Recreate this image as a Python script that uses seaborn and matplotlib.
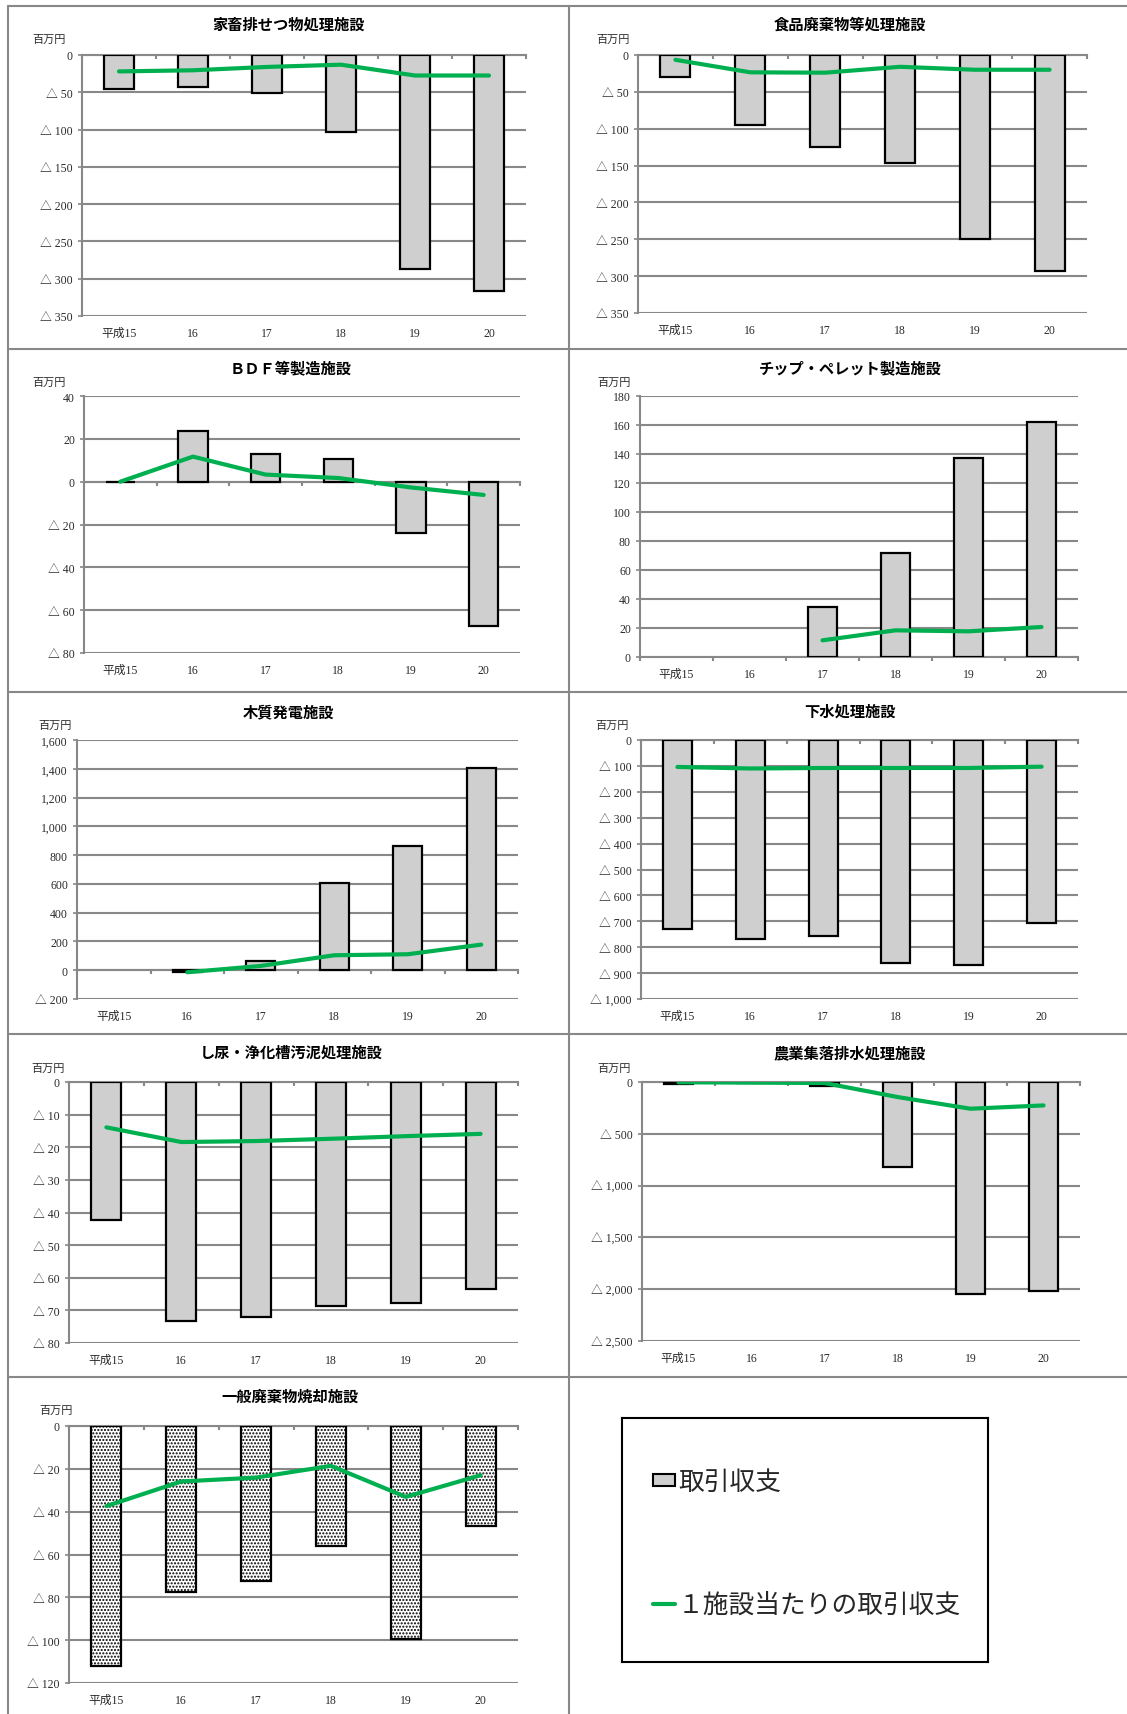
import numpy as np
import pandas as pd
import matplotlib
matplotlib.use("Agg")
import matplotlib.pyplot as plt
from matplotlib.ticker import MultipleLocator, FuncFormatter
from matplotlib.patches import Patch
from matplotlib.lines import Line2D
import seaborn as sns

nan = np.nan

# 年度 (category axis)
years = ["平成15", "16", "17", "18", "19", "20"]

# 施設区分ごとの取引収支と１施設当たりの取引収支 (百万円)
kachiku_total = [-45, -43, -51, -103, -287, -316]
kachiku_per = [-22, -20.5, -16, -13, -27.5, -27.5]

shokuhin_total = [-30, -95, -124.5, -146, -249, -293]
shokuhin_per = [-6.5, -23.5, -24, -16, -20, -20]

bdf_total = [-0.3, 23.6, 13, 10.6, -24.2, -67.4]
bdf_per = [0, 11.7, 3.3, 1.7, -2.7, -6.2]

chip_total = [nan, nan, 34.7, 72, 137.5, 161.8]
chip_per = [nan, nan, 11.5, 18.4, 17.7, 20.7]

mokushitsu_total = [nan, -12, 62, 603, 865, 1408]
mokushitsu_per = [nan, -14, 30, 104, 111, 178]

gesui_total = [-730, -768, -756, -860, -869, -705]
gesui_per = [-104, -110, -108, -108, -108, -103]

shinyo_total = [-42.2, -73.2, -72, -68.8, -67.7, -63.5]
shinyo_per = [-13.9, -18.4, -18.1, -17.4, -16.6, -15.9]

nogyo_total = [-20, -10, -42, -816, -2045, -2013]
nogyo_per = [-3, -6, -10, -145, -258, -226]

ippan_total = [-112, -77.6, -72.2, -56.2, -99.5, -46.7]
ippan_per = [-37.4, -25.9, -24.1, -18.6, -33.1, -23]

titles = ["家畜排せつ物処理施設", "食品廃棄物等処理施設", "ＢＤＦ等製造施設",
          "チップ・ペレット製造施設", "木質発電施設", "下水処理施設",
          "し尿・浄化槽汚泥処理施設", "農業集落排水処理施設", "一般廃棄物焼却施設"]

legend_labels = ["取引収支", "１施設当たりの取引収支"]
unit_label = "百万円"

W, H = 1127, 1715
GRID = "#888888"
BAR = "#cfcfcf"
GREEN = "#00B050"
TEXT = "#2a2a2a"

sns.set_theme(style="white")
plt.rcParams["font.family"] = ["Liberation Serif", "Noto Sans CJK JP"]
CJK = ["Noto Sans CJK JP"]

fig = plt.figure(figsize=(W / 100, H / 100), dpi=100)


def frac(l, r, t, b):
    return [l / W, 1 - b / H, (r - l) / W, (b - t) / H]


def tri_fmt(v, _pos):
    if v < 0:
        return "△ " + f"{-v:,.0f}"
    return f"{v:,.0f}"


# (totals, per-facility, ylim, step, axes box, title x, title y, unit x, unit y, hatch)
panels = [
    (kachiku_total, kachiku_per, (-350, 0), 50, (82, 526, 56, 317), 289, 25, 49, 40, None),
    (shokuhin_total, shokuhin_per, (-350, 0), 50, (638, 1087, 56, 314), 850, 25, 613, 40, None),
    (bdf_total, bdf_per, (-80, 40), 20, (84, 520, 397, 654), 291, 368, 49, 383, None),
    (chip_total, chip_per, (0, 180), 20, (640, 1078, 397, 658), 850, 368, 614, 383, None),
    (mokushitsu_total, mokushitsu_per, (-200, 1600), 200, (77, 518, 741, 1000), 289, 712, 55, 726, None),
    (gesui_total, gesui_per, (-1000, 0), 100, (641, 1078, 741, 1000), 850, 712, 612, 726, None),
    (shinyo_total, shinyo_per, (-80, 0), 10, (69, 518, 1083, 1344), 291, 1053, 48, 1069, None),
    (nogyo_total, nogyo_per, (-2500, 0), 500, (642, 1080, 1083, 1342), 850, 1053, 614, 1069, None),
    (ippan_total, ippan_per, (-120, 0), 20, (69, 518, 1427, 1684), 290, 1397, 56, 1411, "....."),
]

for title, (tot, per, (lo, hi), step, box, tx, ty, ux, uy, hatch) in zip(titles, panels):
    ax = fig.add_axes(frac(*box))
    df = pd.DataFrame({"年度": years, "取引収支": tot, "１施設当たり": per})

    bar_kws = dict(edgecolor="black", linewidth=1.6, zorder=3)
    if hatch:
        bar_kws["hatch"] = hatch
    sns.barplot(data=df, x="年度", y="取引収支", order=years, width=0.4,
                color="white" if hatch else BAR, saturation=1, ax=ax, **bar_kws)
    sns.pointplot(data=df, x="年度", y="１施設当たり", order=years, color=GREEN,
                  marker="", linewidth=3, errorbar=None, ax=ax, zorder=4)

    ax.set_ylim(lo, hi)
    ax.yaxis.set_major_locator(MultipleLocator(step))
    ax.yaxis.set_major_formatter(FuncFormatter(tri_fmt))
    ax.yaxis.grid(True, color=GRID, linewidth=1.5)
    ax.xaxis.grid(False)
    ax.set_axisbelow(True)
    ax.set_xlabel("")
    ax.set_ylabel("")
    for s in ["top", "right", "bottom"]:
        ax.spines[s].set_visible(False)
    ax.spines["left"].set_color(GRID)
    ax.spines["left"].set_linewidth(1.5)
    ax.tick_params(axis="y", left=True, length=3, width=1.2, color=GRID,
                   labelsize=8.5, labelcolor=TEXT, pad=3.5)
    ax.tick_params(axis="x", length=0, labelsize=8.5, labelcolor=TEXT, pad=8)

    # category axis crossing at zero, with ticks between the years
    zero = (0 - lo) / (hi - lo)
    sec = ax.secondary_xaxis(zero)
    sec.set_alignment("bottom")
    sec.set_xticks(np.arange(len(years) + 1) - 0.5)
    sec.tick_params(axis="x", length=3, width=1.5, color=GRID, direction="out",
                    labelbottom=False, labeltop=False)
    sec.spines["bottom"].set_color(GRID)
    sec.spines["bottom"].set_linewidth(1.5)

    fig.text(tx / W, 1 - ty / H, title, ha="center", va="center",
             family=CJK, fontsize=11, fontweight="bold", color="black")
    fig.text(ux / W, 1 - uy / H, unit_label, ha="center", va="center",
             family=CJK, fontsize=8, color=TEXT)

# legend panel
lax = fig.add_axes(frac(622, 988, 1419, 1663))
lax.set_xticks([])
lax.set_yticks([])
lax.set_facecolor("white")
for s in lax.spines.values():
    s.set_visible(True)
    s.set_color("black")
    s.set_linewidth(1.5)
handles = [Patch(facecolor=BAR, edgecolor="black", linewidth=1.5),
           Line2D([], [], color=GREEN, linewidth=3)]
lax.legend(handles, legend_labels, loc="upper left", bbox_to_anchor=(0.085, 0.79),
           frameon=False, borderpad=0, borderaxespad=0, handlelength=0.85,
           handleheight=0.38, handletextpad=0.12, labelspacing=3.75,
           prop={"family": CJK, "size": 18.5})

# cell borders


def seg(xs, ys):
    fig.add_artist(Line2D([x / W for x in xs], [1 - y / H for y in ys],
                          color=GRID, linewidth=1.5, transform=fig.transFigure))


seg([8, W], [7, 7])
seg([8, 8], [7, H])
seg([568.5, 568.5], [7, H])
for yb in [350, 692.5, 1035, 1377.5]:
    seg([8, W], [yb, yb])

fig.savefig("out.png", dpi=100)
